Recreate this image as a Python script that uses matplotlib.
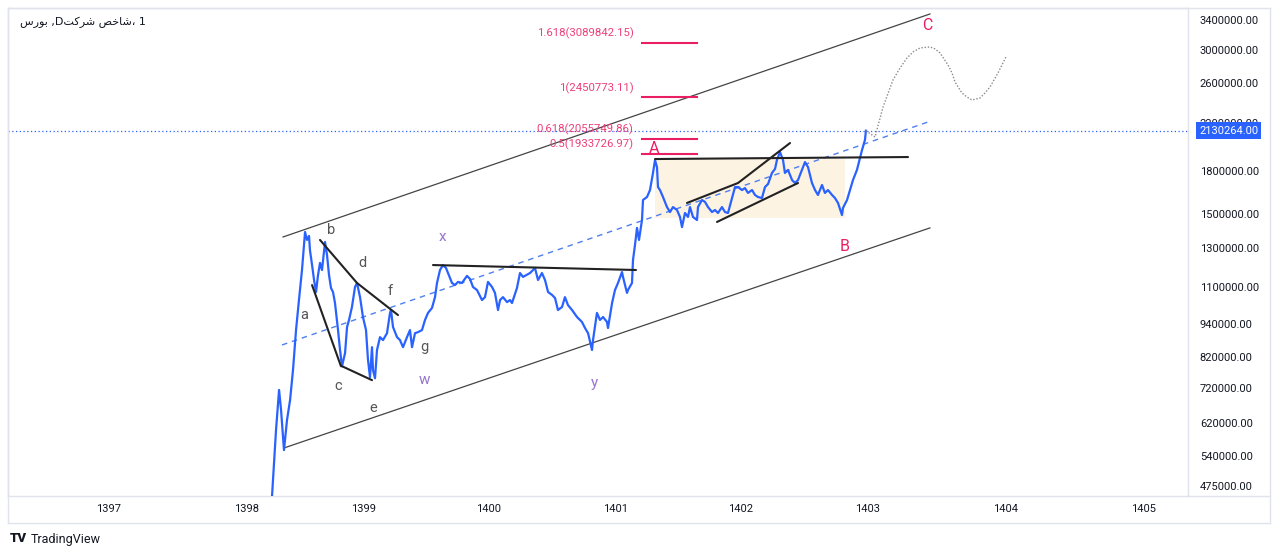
import numpy as np
import matplotlib
matplotlib.use("Agg")
import matplotlib.pyplot as plt
from matplotlib.lines import Line2D
from matplotlib.patches import Rectangle
from matplotlib.transforms import blended_transform_factory

plt.rcParams['font.family'] = ['Roboto', 'DejaVu Sans']

# ---- data (years are Persian calendar, prices in thousands of index points) ----
years = [1398.214, 1398.248, 1398.274, 1398.291, 1398.316, 1398.342, 1398.368, 1398.393,
         1398.419, 1398.444, 1398.470, 1398.487, 1398.496, 1398.513, 1398.530, 1398.538,
         1398.556, 1398.573, 1398.590, 1398.607, 1398.624, 1398.641, 1398.667, 1398.684,
         1398.701, 1398.718, 1398.735, 1398.752, 1398.778, 1398.795, 1398.812, 1398.838,
         1398.855, 1398.872, 1398.897, 1398.923, 1398.940, 1398.966, 1398.991,
         1399.016, 1399.032, 1399.048, 1399.064, 1399.072, 1399.088, 1399.104, 1399.128,
         1399.152, 1399.184, 1399.208, 1399.216, 1399.232, 1399.264, 1399.288, 1399.312,
         1399.344, 1399.368, 1399.384, 1399.408, 1399.432, 1399.464, 1399.488, 1399.512,
         1399.544, 1399.568, 1399.584, 1399.608, 1399.632, 1399.656, 1399.672, 1399.704,
         1399.728, 1399.752, 1399.784, 1399.824, 1399.848, 1399.872, 1399.904, 1399.944,
         1399.968, 1399.992,
         1400.024, 1400.047, 1400.071, 1400.087, 1400.110, 1400.142, 1400.165, 1400.181,
         1400.220, 1400.244, 1400.268, 1400.323, 1400.362, 1400.386, 1400.417, 1400.441,
         1400.465, 1400.496, 1400.520, 1400.543, 1400.575, 1400.598, 1400.622, 1400.654,
         1400.693, 1400.732, 1400.756, 1400.780, 1400.811, 1400.819, 1400.850, 1400.874,
         1400.898, 1400.929, 1400.937, 1400.969, 1400.992,
         1401.016, 1401.048, 1401.056, 1401.088, 1401.096, 1401.128, 1401.136, 1401.152,
         1401.168, 1401.184, 1401.208, 1401.216, 1401.248, 1401.272, 1401.296, 1401.312,
         1401.328, 1401.336, 1401.352, 1401.376, 1401.408, 1401.432, 1401.456, 1401.488,
         1401.512, 1401.528, 1401.552, 1401.576, 1401.592, 1401.616, 1401.648, 1401.656,
         1401.688, 1401.712, 1401.736, 1401.768, 1401.792, 1401.816, 1401.848, 1401.872,
         1401.896, 1401.928, 1401.952, 1401.976,
         1402.008, 1402.031, 1402.055, 1402.087, 1402.110, 1402.134, 1402.165, 1402.189,
         1402.213, 1402.244, 1402.268, 1402.283, 1402.307, 1402.331, 1402.346, 1402.370,
         1402.402, 1402.425, 1402.449, 1402.480, 1402.504, 1402.528, 1402.559, 1402.583,
         1402.606, 1402.638, 1402.661, 1402.685, 1402.717, 1402.740, 1402.764, 1402.795,
         1402.803, 1402.835, 1402.858, 1402.882, 1402.913, 1402.937, 1402.953, 1402.976,
         1402.984]
close_k = [456, 602, 713, 655, 553, 628, 683, 775,
           918, 1042, 1183, 1315, 1389, 1343, 1366, 1287,
           1208, 1134, 1078, 1158, 1219, 1183, 1332, 1260,
           1158, 1096, 1078, 1029, 918, 844, 788, 833,
           930, 958, 1012, 1101, 1120, 1055, 970,
           918, 809, 752, 854, 775, 749, 844, 891,
           880, 906, 987, 999, 930, 891, 880, 854,
           891, 918, 854, 906, 910, 918, 958, 987,
           1008, 1055, 1120, 1183, 1208, 1193, 1168, 1120,
           1110, 1125, 1120, 1154, 1139, 1101, 1087, 1042,
           1055, 1125,
           1101, 1074, 999, 1042, 1055, 1033, 1042, 1029,
           1096, 1168, 1149, 1168, 1193, 1134, 1168, 1134,
           1078, 1065, 1051, 999, 1012, 1055, 1020, 999,
           970, 950, 926, 906, 844, 880, 987, 958,
           970, 950, 926, 1029, 1087,
           1120, 1173, 1149, 1074, 1087, 1120, 1234, 1315,
           1413, 1343, 1461, 1590, 1610, 1658, 1782, 1882,
           1826, 1679, 1658, 1610, 1543, 1511, 1543, 1524,
           1480, 1418, 1505, 1480, 1543, 1480, 1461, 1543,
           1590, 1577, 1543, 1511, 1524, 1505, 1543, 1511,
           1505, 1603, 1679, 1679,
           1658, 1672, 1638, 1658, 1624, 1610, 1603, 1679,
           1701, 1782, 1813, 1882, 1947, 1882, 1782, 1805,
           1730, 1708, 1730, 1805, 1866, 1826, 1708, 1658,
           1624, 1694, 1638, 1658, 1624, 1603, 1570, 1492,
           1537, 1590, 1658, 1730, 1805, 1898, 1963, 2048,
           2130.264]
last_price = 2130264

# projected path (dotted)
proj_years = [1402.984, 1403.051, 1403.080, 1403.109, 1403.181, 1403.232, 1403.283, 1403.326,
              1403.377, 1403.449, 1403.486, 1403.522, 1403.580, 1403.609, 1403.630, 1403.681,
              1403.717, 1403.754, 1403.812, 1403.848, 1403.884, 1403.913, 1403.942, 1403.971,
              1404.000]
proj_k = [2130, 2074, 2210, 2354, 2639, 2776, 2896, 2970,
          3021, 3034, 3008, 2958, 2812, 2718, 2617, 2498,
          2456, 2425, 2446, 2498, 2562, 2639, 2718, 2812,
          2908]

# drawn trend lines: (years, prices in thousands)
upper_channel = ([1398.308, 1403.449], [1360, 3487])
lower_channel = ([1398.316, 1403.449], [558, 1413])
mid_channel = ([1398.299, 1403.435], [862, 2210])
line_a_c = ([1398.556, 1398.803], [1110, 788])
line_c_e = ([1398.812, 1399.064], [788, 743])
line_b_d_f = ([1398.624, 1398.940, 1399.272], [1343, 1120, 978])
line_x_top = ([1399.552, 1401.160], [1208, 1183])
line_a_top = ([1401.312, 1403.290], [1890, 1906])
wedge_top = ([1401.568, 1401.976, 1402.386], [1570, 1708, 2022])
wedge_bottom = ([1401.808, 1402.449], [1449, 1708])
box_years = (1401.312, 1402.819)
box_k = (1473, 1890)

fib_levels = ["1.618", "1", "0.618", "0.5"]
fib_prices = [3089842.15, 2450773.11, 2055749.86, 1933726.97]
fib_years = (1401.208, 1401.648)

wave_small = ["a", "b", "c", "d", "e", "f", "g"]
wave_small_years = [1398.487, 1398.718, 1398.778, 1398.983, 1399.072, 1399.208, 1399.480]
wave_small_k = [978, 1401, 724, 1219, 660, 1083, 854]
wave_mid = ["w", "x", "y"]
wave_mid_years = [1399.480, 1399.624, 1400.827]
wave_mid_k = [743, 1360, 734]
wave_big = ["A", "B", "C"]
wave_big_years = [1401.304, 1402.819, 1403.428]
wave_big_k = [1980, 1309, 3315]

year_labels = [1397, 1398, 1399, 1400, 1401, 1402, 1403, 1404, 1405]
price_ticks = [3400000, 3000000, 2600000, 2200000, 1800000, 1500000, 1300000, 1100000,
               940000, 820000, 720000, 620000, 540000, 475000]

# ---- time scale: trading-day spacing inside data, calendar spacing outside ----
scale_years = [1396, 1397, 1398, 1399, 1400, 1401, 1402, 1403, 1404, 1405, 1406]
scale_pos = [-29, 109, 247, 364, 489, 616, 741, 868, 1006, 1144, 1282]


def fwd(x):
    return np.interp(x, scale_years, scale_pos)


def inv(x):
    return np.interp(x, scale_pos, scale_years)


def k(v):
    return np.asarray(v, dtype=float) * 1000


W, H = 1280, 557
fig = plt.figure(figsize=(W / 100, H / 100), dpi=100)
fig.patch.set_facecolor("white")
ax = fig.add_axes([8 / W, 1 - 496 / H, 1180 / W, 488 / H])
ax.set_xscale("function", functions=(fwd, inv))
ax.set_yscale("log")
ax.set_xlim(1396.268, 1405.319)
ax.set_ylim(455600, 3576000)

BLUE = "#2962ff"
PINK = "#e91e63"
DARK = "#222222"

ax.add_patch(Rectangle((box_years[0], box_k[0] * 1000), box_years[1] - box_years[0],
                       (box_k[1] - box_k[0]) * 1000, facecolor="#fdf3e3", edgecolor="none", zorder=1))

ax.axhline(last_price, color=BLUE, lw=0.9, ls=(0, (1, 2)), zorder=2)

ax.plot(upper_channel[0], k(upper_channel[1]), color="#444444", lw=0.9, zorder=3)
ax.plot(lower_channel[0], k(lower_channel[1]), color="#444444", lw=0.9, zorder=3)
ax.plot(mid_channel[0], k(mid_channel[1]), color="#4f7ff0", lw=1.0, ls=(0, (4, 3.5)), zorder=3)

for ln in [line_a_c, line_c_e, line_b_d_f, line_x_top, line_a_top, wedge_top, wedge_bottom]:
    ax.plot(ln[0], k(ln[1]), color=DARK, lw=1.5, zorder=5, solid_capstyle="round")

ax.plot(years, k(close_k), color=BLUE, lw=1.6, zorder=4, solid_joinstyle="round")
ax.plot(proj_years, k(proj_k), color="#8a8a8a", lw=1.0, ls=(0, (1, 1.3)), zorder=4)

for lvl, p in zip(fib_levels, fib_prices):
    ax.plot(fib_years, [p, p], color=PINK, lw=1.5, zorder=5)
    ax.annotate(f"{lvl}({p:.2f})", xy=(fib_years[0], p), xytext=(-6, 7),
                textcoords="offset points", ha="right", va="center",
                fontsize=8.2, color="#ec407a", zorder=6)

for t, x, y in zip(wave_small, wave_small_years, wave_small_k):
    ax.text(x, y * 1000, t, ha="center", va="center", fontsize=10.5, color="#555555", zorder=6)
for t, x, y in zip(wave_mid, wave_mid_years, wave_mid_k):
    ax.text(x, y * 1000, t, ha="center", va="center", fontsize=11, color="#9575cd", zorder=6)
for t, x, y in zip(wave_big, wave_big_years, wave_big_k):
    ax.text(x, y * 1000, t, ha="center", va="center", fontsize=11.5, color=PINK, zorder=6)

# axes styling
ax.set_xticks(year_labels)
ax.set_xticklabels([str(y) for y in year_labels])
ax.set_yticks(price_ticks)
ax.set_yticklabels([f"{p:.2f}" for p in price_ticks])
ax.yaxis.set_minor_locator(matplotlib.ticker.NullLocator())
ax.yaxis.tick_right()
ax.tick_params(axis="y", length=0, pad=8.5, labelsize=8, labelcolor="#131722")
ax.tick_params(axis="x", length=0, pad=6, labelsize=8, labelcolor="#131722")
for s in ax.spines.values():
    s.set_color("#e0e3eb")
    s.set_linewidth(1)

trans = blended_transform_factory(ax.transAxes, ax.transData)
ax.text(1 + 11 / 1180, last_price, f"{last_price:.2f}", transform=trans, ha="left", va="center",
        fontsize=8, color="white", zorder=10, clip_on=False,
        bbox=dict(boxstyle="square,pad=0.3", facecolor=BLUE, edgecolor="none"))

# panes frame
for (x0, y0, x1, y1) in [(8, 8, 1270, 8), (1270, 8, 1270, 523), (8, 523, 1270, 523),
                         (8, 8, 8, 523), (1188, 496, 1270, 496)]:
    fig.add_artist(Line2D([x0 / W, x1 / W], [1 - y0 / H, 1 - y1 / H], color="#e0e3eb", lw=1))

# title (Persian, visual order with contextual forms)
title = ("\uFEB1\uFEAD\uFEEE\uFE91" + " ,D" + "\uFE96\uFB90\uFEAE\uFEB7" + " "
         + "\uFEBA\uFEA7\uFE8E\uFEB7" + "\u060C 1")
fig.text(20 / W, 1 - 22 / H, title, ha="left", va="center", fontsize=8, color="#131722",
         family=["DejaVu Sans"])

fig.text(10 / W, 1 - 539 / H, "TV", ha="left", va="center", fontsize=9.5,
         fontweight="heavy", color="#131722")
fig.text(31 / W, 1 - 539 / H, "TradingView", ha="left", va="center", fontsize=9, color="#131722")

fig.savefig("out.png", dpi=100)
